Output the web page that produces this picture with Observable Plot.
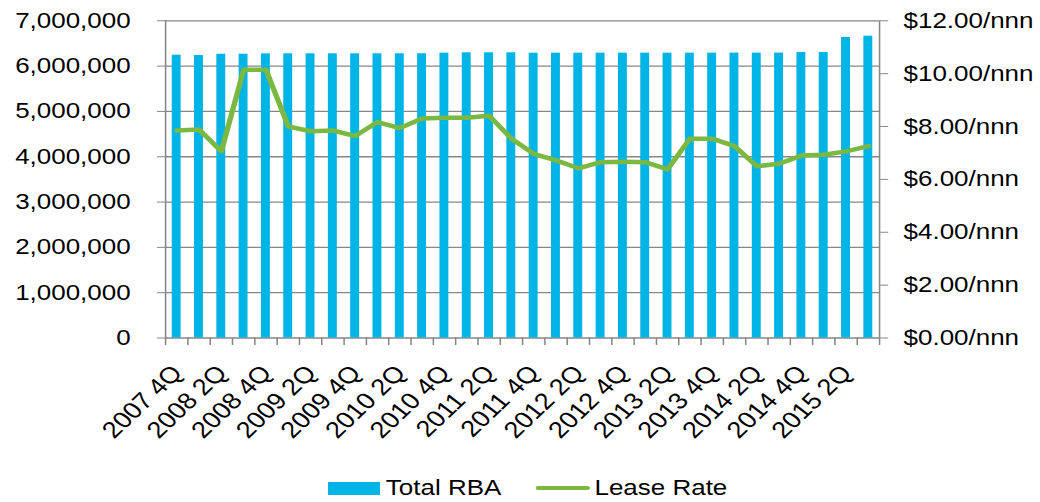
<!DOCTYPE html>
<html>
<head>
<meta charset="utf-8">
<script src="https://cdn.jsdelivr.net/npm/d3@7"></script>
<script src="https://cdn.jsdelivr.net/npm/@observablehq/plot@0.6"></script>
<style>
  html, body { margin: 0; padding: 0; background: #fff; }
  #wrap {
    position: relative;
    width: 881.36px;
    height: 502px;
    transform: scaleX(1.18);
    transform-origin: 0 0;
    font-family: "Liberation Sans", Arial, sans-serif;
  }
  #legend {
    position: absolute;
    left: 278px;
    top: 476px;
    height: 24px;
    display: flex;
    align-items: center;
    font-size: 22px;
    color: #000;
    white-space: nowrap;
  }
  .sw { width: 44px; height: 13px; background: #00B4E5; margin-right: 5px; }
  .ln { width: 46.6px; height: 4.5px; background: #7BB842; margin-left: 29px; margin-right: 3.4px; border-radius: 2px; }
</style>
</head>
<body>
<div id="wrap">
  <div id="chart"></div>
  <div id="legend">
    <span class="sw"></span><span>Total RBA</span>
    <span class="ln"></span><span>Lease Rate</span>
  </div>
</div>
<script>
const categories = [
  "2007 4Q",
  "2008 1Q", "2008 2Q", "2008 3Q", "2008 4Q",
  "2009 1Q", "2009 2Q", "2009 3Q", "2009 4Q",
  "2010 1Q", "2010 2Q", "2010 3Q", "2010 4Q",
  "2011 1Q", "2011 2Q", "2011 3Q", "2011 4Q",
  "2012 1Q", "2012 2Q", "2012 3Q", "2012 4Q",
  "2013 1Q", "2013 2Q", "2013 3Q", "2013 4Q",
  "2014 1Q", "2014 2Q", "2014 3Q", "2014 4Q",
  "2015 1Q", "2015 2Q", "2015 3Q"
];
const totalRBA = [
  6241000, 6235000, 6262000, 6263000, 6271000, 6272000, 6272000, 6272000,
  6272000, 6272000, 6272000, 6273000, 6286000, 6293000, 6294000, 6294000,
  6286000, 6286000, 6286000, 6286000, 6286000, 6286000, 6286000, 6286000,
  6286000, 6287000, 6287000, 6288000, 6301000, 6302000, 6632000, 6661000
];
const leaseRate = [
  7.85, 7.89, 7.06, 10.15, 10.15, 8.00, 7.82, 7.85,
  7.64, 8.17, 7.94, 8.30, 8.33, 8.33, 8.41, 7.54,
  6.97, 6.72, 6.42, 6.65, 6.67, 6.65, 6.38, 7.54,
  7.54, 7.26, 6.50, 6.59, 6.90, 6.93, 7.06, 7.26
];
const leftTicks = [0, 1000000, 2000000, 3000000, 4000000, 5000000, 6000000, 7000000];
const rightTicks = [0, 2, 4, 6, 8, 10, 12];
const labelTicks = categories.filter((d, i) => i % 2 === 0);

const s = 1.18;
const W = 1040 / s;
const H = 460;
const mL = 165 / s, mR = (1040 - 879) / s, mT = 20.3, mB = H - 337.5;
const step = (W - mL - mR) / categories.length;
const k = 7000000 / 12;
const gray = "#868686";
const data = categories.map((q, i) => ({q, rba: totalRBA[i], rate: leaseRate[i]}));

const chart = Plot.plot({
  width: W,
  height: H,
  marginLeft: mL,
  marginRight: mR,
  marginTop: mT,
  marginBottom: mB,
  style: {fontFamily: '"Liberation Sans", Arial, sans-serif', fontSize: "22px", color: "#000", background: "transparent"},
  x: {type: "band", domain: categories, paddingInner: 0.6, paddingOuter: 0.3, round: false, label: null},
  y: {domain: [0, 7000000], label: null},
  marks: [
    Plot.ruleY(leftTicks, {stroke: gray, strokeWidth: 1.3}),
    Plot.barY(data, {x: "q", y: "rba", fill: "#00B4E5"}),
    Plot.ruleX([categories[0]], {dx: -step / 2, stroke: gray, strokeWidth: 1.3}),
    Plot.ruleX([categories[categories.length - 1]], {dx: step / 2, stroke: gray, strokeWidth: 1.3}),
    Plot.ruleX(categories, {x: d => d, y1: 0, y2: 0, insetBottom: -7.5, dx: -step / 2, stroke: gray, strokeWidth: 1.3}),
    Plot.ruleX([categories[categories.length - 1]], {x: d => d, y1: 0, y2: 0, insetBottom: -7.5, dx: step / 2, stroke: gray, strokeWidth: 1.3}),
    Plot.line(data, {x: "q", y: d => d.rate * k, stroke: "#7BB842", strokeWidth: 4.5, strokeLinejoin: "round", strokeLinecap: "round"}),
    Plot.axisY({anchor: "left", label: null, ticks: leftTicks, tickFormat: d3.format(","), tickSize: 8 / s, tickPadding: 27 / s, stroke: gray, fill: "#000"}),
    Plot.axisY({anchor: "right", label: null, ticks: rightTicks.map(v => v * k), tickFormat: d => `$${(d / k).toFixed(2)}/nnn`, tickSize: 8 / s, tickPadding: 16 / s, stroke: gray, fill: "#000"}),
    Plot.axisX({anchor: "bottom", label: null, ticks: labelTicks, tickSize: 0, tickPadding: 31, tickRotate: -48, textAnchor: "end", lineAnchor: "middle", dx: 0.4, fontSize: 23, fill: "#000"})
  ]
});
document.getElementById("chart").appendChild(chart);
</script>
</body>
</html>
